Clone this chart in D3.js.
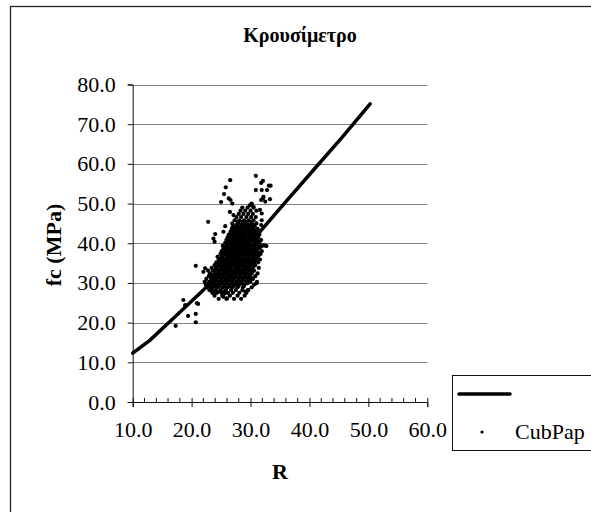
<!DOCTYPE html>
<html><head><meta charset="utf-8">
<script src="https://cdn.jsdelivr.net/npm/d3@7"></script>
<style>
body{margin:0;background:#fff}svg{display:block}
svg text{font-family:"Liberation Serif","Tinos","Times New Roman","Nimbus Roman","DejaVu Serif",serif !important;fill:#000}
</style>
</head><body>
<svg id="c" width="591" height="512"></svg>
<script>
const title = "Κρουσίμετρο";
const xTitle = "R";
const yTitle = "fc (MPa)";
const legendLabel = "CubPap";
const xTicks = [10, 20, 30, 40, 50, 60];
const yTicks = [0, 10, 20, 30, 40, 50, 60, 70, 80];
// trend line points [R, fc]
const trendR  = [10.0, 12.95, 17.5, 22.0, 24.3, 27.0, 31.6, 36.0, 40.65, 45.5, 50.3];
const trendFc = [12.3, 15.6, 21.9, 28.2, 32.0, 36.2, 42.9, 50.5, 58.4, 66.6, 75.1];
// scatter: dense core rows (fc value, then R values on that row)
const coreFc = [26.0, 26.8, 27.5, 28.2, 28.9, 29.6, 30.3, 31.0, 31.7, 32.4, 33.1, 33.8, 34.5, 35.2, 35.9, 36.6, 37.3, 38.0, 38.7, 39.4, 40.1, 40.8, 41.5, 42.2, 42.9, 43.6, 44.3, 45.0, 45.8, 46.6, 47.4, 48.2, 49.0];
const coreR = [
  [24.6, 25.9, 27.2, 28.4],
  [23.9, 25.2, 26.5, 27.8, 29.0],
  [23.5, 24.3, 25.1, 26.2, 27.0, 28.1, 29.3],
  [23.0, 24.0, 24.9, 25.8, 26.7, 27.5, 28.6, 29.6],
  [22.6, 23.5, 24.4, 25.3, 26.1, 26.9, 27.8, 28.7, 30.2],
  [22.4, 23.2, 24.1, 24.8, 25.6, 26.4, 27.3, 28.1, 29.0, 30.6],
  [22.2, 23.0, 23.8, 24.6, 25.3, 26.0, 26.8, 27.6, 28.4, 29.3, 30.0, 31.1],
  [22.5, 23.3, 24.2, 25.0, 25.8, 26.5, 27.2, 28.0, 28.8, 29.6, 30.4],
  [22.9, 23.7, 24.5, 25.3, 26.0, 26.8, 27.5, 28.3, 29.1, 29.9, 30.8],
  [23.1, 24.0, 24.8, 25.6, 26.3, 27.1, 27.9, 28.6, 29.4, 30.2, 31.2],
  [22.8, 23.6, 24.4, 25.2, 26.0, 26.7, 27.4, 28.2, 29.0, 29.8, 30.6],
  [23.4, 24.2, 25.0, 25.7, 26.5, 27.3, 28.0, 28.8, 29.5, 30.3, 31.4],
  [23.9, 24.7, 25.5, 26.2, 27.0, 27.7, 28.5, 29.2, 30.0, 30.8],
  [24.2, 25.0, 25.8, 26.6, 27.3, 28.1, 28.8, 29.6, 30.4, 31.3],
  [24.6, 25.4, 26.1, 26.9, 27.6, 28.4, 29.1, 29.9, 30.7, 31.6],
  [24.4, 25.2, 26.0, 26.7, 27.4, 28.2, 28.9, 29.7, 30.5, 31.2],
  [24.9, 25.7, 26.4, 27.2, 27.9, 28.6, 29.4, 30.1, 30.9, 31.7],
  [25.1, 25.9, 26.6, 27.4, 28.1, 28.9, 29.6, 30.3, 31.0, 31.9],
  [25.4, 26.2, 26.9, 27.6, 28.4, 29.1, 29.8, 30.6, 31.4],
  [25.3, 26.0, 26.8, 27.5, 28.2, 28.9, 29.7, 30.4, 31.1, 32.0],
  [25.7, 26.4, 27.1, 27.9, 28.6, 29.3, 30.0, 30.8, 31.5],
  [25.9, 26.6, 27.4, 28.1, 28.8, 29.5, 30.3, 31.0, 31.8],
  [26.1, 26.9, 27.6, 28.3, 29.0, 29.8, 30.5, 31.3],
  [26.3, 27.0, 27.8, 28.5, 29.2, 30.0, 30.7, 31.5],
  [26.6, 27.3, 28.0, 28.7, 29.5, 30.2, 31.0],
  [26.8, 27.5, 28.2, 28.9, 29.7, 30.4, 31.2],
  [27.0, 27.7, 28.5, 29.2, 29.9, 30.7],
  [26.9, 27.9, 28.7, 29.4, 30.2, 31.0],
  [27.3, 28.1, 28.9, 29.7, 30.5],
  [27.6, 28.4, 29.3, 30.1, 30.9],
  [28.0, 28.8, 29.6, 30.4],
  [28.3, 29.1, 30.0, 31.0],
  [28.6, 29.5, 30.5]
];
const fillFc = [29.2, 29.95, 30.65, 31.35, 32.05, 32.75, 33.45, 34.15, 34.85, 35.55, 36.25, 36.95, 37.65, 38.35, 39.05, 39.75, 40.45, 41.15, 41.85, 42.55, 43.25, 43.95, 44.65, 45.4];
const fillR = [
  [23.0, 23.9, 24.7, 25.6, 26.4, 27.1, 27.9, 28.9],
  [22.8, 23.6, 24.5, 25.2, 26.0, 26.9, 27.7, 28.5, 29.5],
  [23.4, 24.2, 25.0, 25.7, 26.4, 27.2, 28.0, 28.8, 29.7],
  [23.7, 24.6, 25.4, 26.2, 26.9, 27.7, 28.5, 29.3, 30.1],
  [23.4, 24.3, 25.1, 25.9, 26.6, 27.4, 28.2, 29.0, 29.8],
  [23.9, 24.6, 25.4, 26.1, 26.9, 27.6, 28.4, 29.2, 30.0],
  [24.0, 24.8, 25.6, 26.3, 27.1, 27.8, 28.6, 29.3, 30.1],
  [24.3, 25.1, 25.9, 26.6, 27.4, 28.1, 28.9, 29.6, 30.5],
  [24.6, 25.3, 26.1, 26.8, 27.6, 28.3, 29.1, 29.9, 30.6],
  [24.8, 25.6, 26.4, 27.1, 27.9, 28.6, 29.4, 30.2, 30.9],
  [25.0, 25.8, 26.5, 27.3, 28.0, 28.8, 29.5, 30.3, 31.0],
  [25.1, 25.9, 26.7, 27.5, 28.3, 29.0, 29.8, 30.5, 31.4],
  [25.4, 26.1, 26.9, 27.6, 28.4, 29.2, 29.9, 30.6, 31.3],
  [25.6, 26.3, 27.1, 27.8, 28.6, 29.3, 30.1, 30.8],
  [25.8, 26.5, 27.3, 28.0, 28.8, 29.5, 30.2, 31.0, 31.7],
  [26.1, 26.8, 27.5, 28.3, 29.0, 29.8, 30.6, 31.3],
  [26.3, 27.0, 27.8, 28.5, 29.2, 30.0, 30.7, 31.4],
  [26.5, 27.3, 28.0, 28.7, 29.5, 30.2, 31.0],
  [26.7, 27.5, 28.2, 28.9, 29.6, 30.4, 31.1],
  [27.0, 27.7, 28.4, 29.1, 29.9, 30.6],
  [27.2, 27.9, 28.6, 29.4, 30.1, 30.8],
  [27.4, 28.1, 28.9, 29.6, 30.3],
  [27.6, 28.4, 29.1, 29.8, 30.5],
  [27.8, 28.6, 29.3, 30.1]
];
// scattered outliers
const outR  = [26.55, 30.9, 25.8, 25.5, 26.3, 26.6, 26.9, 25.0, 31.8, 32.1, 30.9, 31.9, 33.1, 32.2, 31.8, 22.8, 26.5, 27.1, 25.7, 25.4, 24.0, 23.7, 23.9, 30.2, 29.9, 30.5, 31.6, 31.9, 33.4, 32.8, 33.3, 32.1, 32.5, 31.9, 31.8, 32.2, 32.7, 32.5, 20.7, 20.9, 20.7, 22.0, 22.3, 24.3, 24.8, 25.4, 25.7, 26.0, 25.4, 23.4, 23.7, 27.7, 28.8, 29.9, 31.0, 29.1, 29.6, 18.6, 18.9, 21.1, 19.4, 20.7, 17.3];
const outFc = [55.9, 57.0, 54.1, 52.4, 51.3, 50.9, 50.0, 50.4, 55.2, 55.7, 53.4, 53.4, 54.5, 51.7, 50.9, 45.4, 47.9, 47.1, 44.3, 42.9, 42.3, 41.2, 40.4, 50.0, 49.6, 49.2, 48.4, 47.5, 54.5, 53.4, 51.1, 51.3, 50.5, 45.8, 44.6, 39.5, 39.3, 39.4, 34.3, 24.9, 22.2, 32.8, 33.7, 27.8, 27.8, 27.8, 27.4, 26.1, 26.5, 28.2, 27.5, 29.5, 30.7, 30.7, 29.9, 27.8, 28.2, 25.7, 24.4, 24.7, 21.7, 20.1, 19.2];

const points = [];
coreFc.forEach((f, i) => coreR[i].forEach(r => points.push([r, f])));
fillFc.forEach((f, i) => fillR[i].forEach(r => points.push([r, f])));
outR.forEach((r, i) => points.push([r, outFc[i]]));
const trend = trendR.map((r, i) => [r, trendFc[i]]);

const svg = d3.select("#c");
const x = d3.scaleLinear().domain([10, 60]).range([132.7, 427.3]);
const y = d3.scaleLinear().domain([0, 80]).range([402, 84.5]);

// outer frame
svg.append("rect").attr("x", 10.5).attr("y", 6.5).attr("width", 600).attr("height", 520)
  .attr("fill", "#fff").attr("stroke", "#222").attr("stroke-width", 1.3);

// gridlines
svg.append("g").selectAll("line").data(yTicks.filter(d => d > 0)).join("line")
  .attr("x1", x(10)).attr("x2", x(60))
  .attr("y1", d => Math.round(y(d)) + 0.5).attr("y2", d => Math.round(y(d)) + 0.5)
  .attr("stroke", "#808080").attr("stroke-width", 1);

// y axis
const yAxis = d3.axisLeft(y).tickValues(yTicks).tickFormat(d3.format(".1f")).tickSize(5).tickPadding(12);
const gy = svg.append("g").attr("transform", `translate(${x(10)},0)`).call(yAxis);
gy.attr("font-family", null);
gy.select(".domain").attr("stroke", "#111");
gy.selectAll(".tick line").attr("stroke", "#111");
gy.selectAll("text").attr("font-size", 22).attr("fill", "#000");

// x axis with minor ticks
const minor = d3.range(12, 60, 2).filter(v => v % 10 !== 0);
svg.append("g").selectAll("line").data(minor).join("line")
  .attr("x1", d => x(d)).attr("x2", d => x(d)).attr("y1", y(0) - 4).attr("y2", y(0))
  .attr("stroke", "#111");
const xAxis = d3.axisBottom(x).tickValues(xTicks).tickFormat(d3.format(".1f")).tickSize(5).tickPadding(14);
const gx = svg.append("g").attr("transform", `translate(0,${y(0)})`).call(xAxis);
gx.attr("font-family", null);
gx.select(".domain").attr("stroke", "#111");
gx.selectAll(".tick line").attr("stroke", "#111").attr("y1", -4);
gx.selectAll("text").attr("font-size", 22).attr("fill", "#000");

// scatter
svg.append("g").selectAll("circle").data(points).join("circle")
  .attr("cx", d => x(d[0])).attr("cy", d => y(d[1])).attr("r", 2.1).attr("fill", "#000");

// trend line
svg.append("path").datum(trend)
  .attr("d", d3.line().x(d => x(d[0])).y(d => y(d[1])))
  .attr("fill", "none").attr("stroke", "#000").attr("stroke-width", 3.5).attr("stroke-linecap", "round");

// titles
svg.append("text").attr("x", 300).attr("y", 42).attr("text-anchor", "middle")
  .attr("font-weight", "bold").attr("font-size", 20).text(title);
svg.append("text").attr("x", 280).attr("y", 479).attr("text-anchor", "middle")
  .attr("font-weight", "bold").attr("font-size", 22).text(xTitle);
svg.append("text").attr("transform", "translate(61,245) rotate(-90)").attr("text-anchor", "middle")
  .attr("font-weight", "bold").attr("font-size", 22).text(yTitle);

// legend
const lg = svg.append("g");
lg.append("rect").attr("x", 452.5).attr("y", 375.5).attr("width", 160).attr("height", 75)
  .attr("fill", "#fff").attr("stroke", "#111").attr("stroke-width", 1);
lg.append("line").attr("x1", 459).attr("x2", 510).attr("y1", 394).attr("y2", 394)
  .attr("stroke", "#000").attr("stroke-width", 3.5).attr("stroke-linecap", "round");
lg.append("circle").attr("cx", 482).attr("cy", 432).attr("r", 1.6).attr("fill", "#000");
lg.append("text").attr("x", 515).attr("y", 439).attr("font-size", 22).text(legendLabel);
</script>
</body></html>
